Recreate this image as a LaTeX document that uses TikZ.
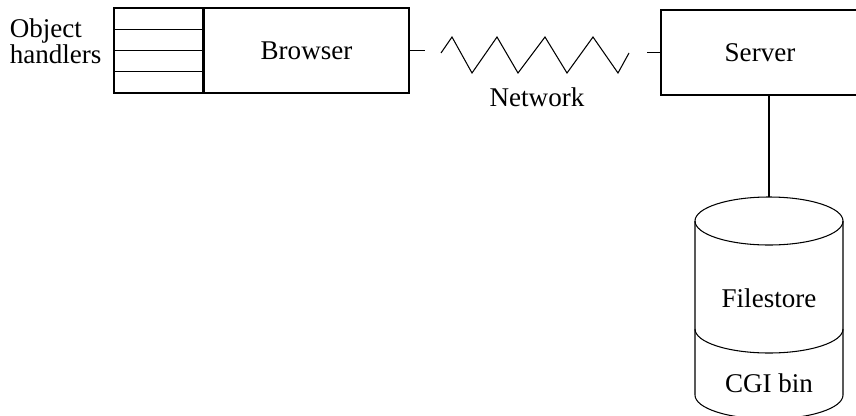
\documentclass[tikz,border=0pt]{standalone}
\usepackage{fontspec}
\setmainfont{Liberation Serif}
\begin{document}
\begin{tikzpicture}[x=0.02cm,y=-0.02cm,line width=0.6pt,
    every node/.style={font=\fontsize{15.4}{13.7}\selectfont},
    box/.style={draw,minimum height=1.7cm,inner sep=0pt}]
        \clip (0,0) rectangle (856,416);

        % Browser with the object handlers
        \node[box,minimum width=4.1cm] (browser) at (306.5,50.5) {Browser};
        \node[box,minimum width=1.78cm,anchor=east] (handlers) at (browser.west) {};
        \foreach \y in {29.75,50.5,71.25}
            \draw (handlers.west |- 0,\y) -- (handlers.east |- 0,\y);
        \node[anchor=east,align=left,inner sep=0pt] (objlabel) at (102,41) {Object\\handlers};

        % Server
        \node[box,minimum width=3.96cm] (server) at (760,52.5) {Server};

        % Network
        \coordinate (netL) at (425,50.5);
        \coordinate (netR) at (647,52.5);
        \draw (browser.east) -- (netL);
        \draw (netR) -- (server.west);
        \draw (441,53) -- (452,37) -- (472,73) -- (497,37) -- (518,73) -- (545,37)
            -- (567,73) -- (593,37) -- (618,73) -- (629,53);
        \node (network) at (537,97) {Network};

        % Filestore
        \coordinate (dbtop) at (769,197);
        \draw (dbtop |- server.south) -- (dbtop);
        \draw (769,221) ellipse [x radius=74,y radius=24];
        \draw (695,221) -- (695,395) arc [start angle=180,end angle=0,x radius=74,y radius=24]
            -- (843,221);
        \draw (695,329) arc [start angle=180,end angle=0,x radius=74,y radius=24];
        \node (filestore) at (769,298) {Filestore};
        \node (cgibin) at (769,383) {CGI bin};
    \end{tikzpicture}
\end{document}
